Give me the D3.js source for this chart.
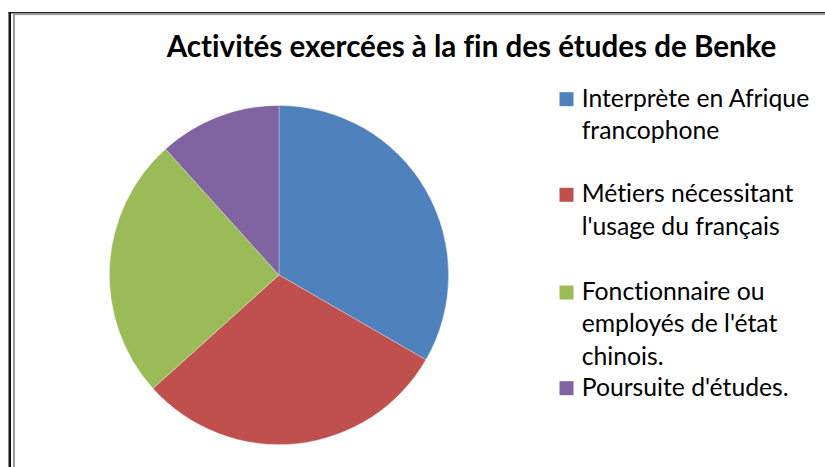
<!DOCTYPE html>
<html>
<head>
<meta charset="utf-8">
<script src="https://cdn.jsdelivr.net/npm/d3@7"></script>
<style>
  html, body { margin: 0; padding: 0; background: #fff; }
  svg { display: block; }
  text { font-variant-ligatures: none; font-feature-settings: "liga" 0, "clig" 0, "dlig" 0; }
</style>
</head>
<body>
<svg id="chart" width="825" height="467"></svg>
<script>
// ---- Data ----
const title = "Activités exercées à la fin des études de Benke";
const categories = [
  "Interprète en Afrique francophone",
  "Métiers nécessitant l'usage du français",
  "Fonctionnaire ou employés de l'état chinois.",
  "Poursuite d'études."
];
const legendLines = [
  ["Interprète en Afrique", "francophone"],
  ["Métiers nécessitant", "l'usage du français"],
  ["Fonctionnaire ou", "employés de l'état", "chinois."],
  ["Poursuite d'études."]
];
const values = [20, 18, 15, 7];
const colors = ["#4F81BD", "#C0504D", "#9BBB59", "#8064A2"];

// ---- Drawing ----
const svg = d3.select("#chart");
const FONT = "Lato, 'Open Sans', sans-serif";

// Frame (double border)
svg.append("rect").attr("x", 8.5).attr("y", 12).attr("width", 825).attr("height", 1.5).attr("fill", "#222");
svg.append("rect").attr("x", 8.5).attr("y", 12).attr("width", 2.5).attr("height", 467).attr("fill", "#111");
svg.append("rect").attr("x", 13).attr("y", 13.5).attr("width", 825).attr("height", 1.6).attr("fill", "#9a9a9a");
svg.append("rect").attr("x", 13).attr("y", 13.5).attr("width", 2).attr("height", 467).attr("fill", "#9a9a9a");

function fitText(sel, target) {
  const node = sel.node();
  const fs = parseFloat(sel.attr("font-size"));
  const w = node.getComputedTextLength();
  sel.attr("font-size", fs * target / w);
}

// Title
const t = svg.append("text")
  .attr("x", 166.7).attr("y", 56.7)
  .attr("font-family", FONT).attr("font-weight", "bold")
  .attr("font-size", 26).attr("fill", "#000")
  .text(title);
fitText(t, 610);

// Pie
const cx = 279, cy = 275, r = 169.6;
const pie = d3.pie().sort(null).value(d => d)(values);
const arc = d3.arc().innerRadius(0).outerRadius(r);
const g = svg.append("g").attr("transform", `translate(${cx},${cy})`);
g.selectAll("path").data(pie).join("path")
  .attr("d", arc)
  .attr("fill", (d, i) => colors[i])
  .attr("stroke", "rgba(255,255,255,0.5)")
  .attr("stroke-width", 0.6);

// Legend
const firstBaselines = [106.7, 202.3, 300, 395.7];
const lineGap = 32.4;
const probe = svg.append("text").attr("font-family", FONT).attr("font-size", 24).text(legendLines[0][0]);
const legendFs = 24 * 227.6 / probe.node().getComputedTextLength();
probe.remove();

const lg = svg.append("g");
legendLines.forEach((lines, i) => {
  const b = firstBaselines[i];
  lg.append("rect")
    .attr("x", 559.5).attr("y", b - 14.5)
    .attr("width", 14).attr("height", 14)
    .attr("fill", colors[i]);
  lines.forEach((ln, j) => {
    lg.append("text")
      .attr("x", 581.7).attr("y", b + j * lineGap)
      .attr("font-family", FONT).attr("font-size", legendFs)
      .attr("fill", "#000")
      .text(ln);
  });
});
</script>
</body>
</html>
